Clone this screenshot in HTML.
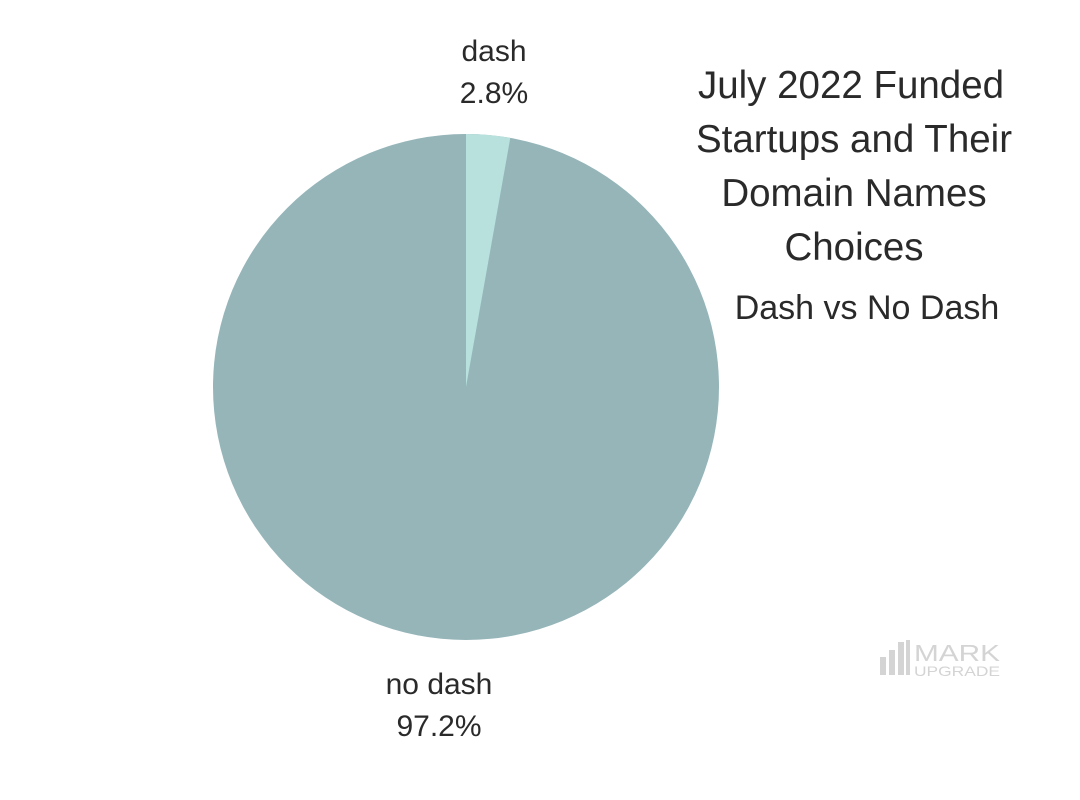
<!DOCTYPE html>
<html><head><meta charset="utf-8"><style>
html,body{margin:0;padding:0;background:#fff;}
</style></head><body>
<svg width="1080" height="800" xmlns="http://www.w3.org/2000/svg" style="display:block">
<rect width="1080" height="800" fill="#fff"/>
<circle cx="466" cy="387" r="253" fill="#95b5b9"/>
<path d="M466,387 L466,134 A253,253 0 0 1 510.3,137.9 Z" fill="#b8e0dc"/>
<g font-family="Liberation Sans, sans-serif" fill="#2a2a2a" text-anchor="middle">
<text x="494" y="61" font-size="30">dash</text>
<text x="494" y="103" font-size="30">2.8%</text>
<text x="439" y="694" font-size="30">no dash</text>
<text x="439" y="736" font-size="30">97.2%</text>
<g font-size="38.5">
<text x="851" y="98">July 2022 Funded</text>
<text x="854" y="152">Startups and Their</text>
<text x="854" y="206">Domain Names</text>
<text x="854" y="260">Choices</text>
</g>
<text x="867" y="319" font-size="34">Dash vs No Dash</text>
</g>
<g fill="#d4d4d4">
<rect x="880" y="657" width="6" height="18"/>
<rect x="889" y="650" width="6" height="25"/>
<rect x="898" y="642" width="6" height="33"/>
<rect x="906" y="640" width="4" height="35"/>
</g>
<g font-family="Liberation Sans, sans-serif" fill="#d4d4d4">
<text x="914" y="661" font-size="23" textLength="86" lengthAdjust="spacingAndGlyphs">MARK</text>
<text x="914" y="676" font-size="14" textLength="86" lengthAdjust="spacingAndGlyphs">UPGRADE</text>
</g>
</svg>
</body></html>
